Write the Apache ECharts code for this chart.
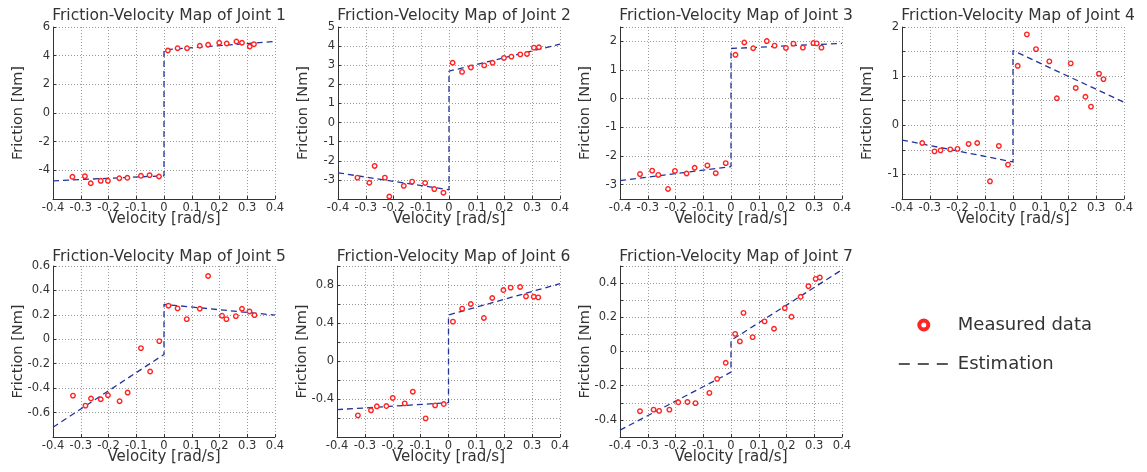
<!DOCTYPE html>
<html><head><meta charset="utf-8">
<script src="https://cdn.jsdelivr.net/npm/echarts@6/dist/echarts.min.js"></script>
<style>html,body{margin:0;padding:0;background:#fff}#c{width:1147px;height:472px}</style>
</head><body><div id="c"></div>
<script>
// ---------- data ----------
const xTicks = [-0.4, 0.4, 0.1]; // min, max, step of velocity axis
const estVel = [-0.4, 0, 0, 0.4];

const j1Vel  = [-0.330,-0.285,-0.264,-0.228,-0.202,-0.161,-0.132,-0.083,-0.052,-0.018,0.014,0.049,0.083,0.129,0.159,0.199,0.226,0.261,0.281,0.309,0.324];
const j1Fric = [-4.45,-4.41,-4.90,-4.73,-4.73,-4.55,-4.52,-4.38,-4.34,-4.43,4.36,4.52,4.52,4.69,4.76,4.90,4.85,4.99,4.90,4.64,4.80];
const j1Est  = [-4.73,-4.38,4.41,4.99];

const j2Vel  = [-0.330,-0.287,-0.268,-0.231,-0.215,-0.163,-0.133,-0.086,-0.053,-0.020,0.013,0.047,0.079,0.127,0.157,0.198,0.225,0.257,0.281,0.306,0.324];
const j2Fric = [-2.88,-3.15,-2.27,-2.88,-3.87,-3.31,-3.09,-3.16,-3.48,-3.67,3.13,2.65,2.88,2.99,3.13,3.38,3.45,3.57,3.59,3.92,3.94];
const j2Est  = [-2.63,-3.52,2.69,4.10];

const j3Vel  = [-0.328,-0.284,-0.262,-0.227,-0.202,-0.160,-0.131,-0.085,-0.055,-0.019,0.016,0.048,0.080,0.129,0.157,0.198,0.225,0.259,0.297,0.309,0.326];
const j3Fric = [-2.63,-2.51,-2.66,-3.15,-2.52,-2.61,-2.41,-2.33,-2.60,-2.25,1.53,1.96,1.76,2.01,1.85,1.77,1.92,1.78,1.94,1.93,1.78];
const j3Est  = [-2.86,-2.37,1.75,1.93];

const j4Vel  = [-0.327,-0.283,-0.261,-0.226,-0.200,-0.160,-0.129,-0.083,-0.051,-0.018,0.017,0.050,0.083,0.131,0.158,0.208,0.226,0.261,0.281,0.310,0.326];
const j4Fric = [-0.36,-0.53,-0.51,-0.49,-0.48,-0.38,-0.36,-1.14,-0.42,-0.80,1.21,1.85,1.55,1.30,0.55,1.26,0.76,0.58,0.38,1.05,0.94];
const j4Est  = [-0.30,-0.745,1.52,0.47];

const j5Vel  = [-0.328,-0.283,-0.263,-0.228,-0.202,-0.160,-0.131,-0.083,-0.050,-0.017,0.016,0.049,0.082,0.129,0.159,0.209,0.225,0.259,0.281,0.308,0.326];
const j5Fric = [-0.461,-0.543,-0.485,-0.491,-0.458,-0.507,-0.436,-0.072,-0.264,-0.015,0.275,0.253,0.165,0.250,0.518,0.193,0.165,0.190,0.250,0.228,0.198];
const j5Est  = [-0.72,-0.124,0.286,0.198];

const j6Vel  = [-0.325,-0.278,-0.257,-0.223,-0.200,-0.157,-0.128,-0.082,-0.048,-0.017,0.016,0.049,0.080,0.127,0.157,0.197,0.223,0.257,0.278,0.306,0.322];
const j6Fric = [-0.572,-0.519,-0.477,-0.474,-0.389,-0.446,-0.323,-0.604,-0.467,-0.453,0.414,0.551,0.600,0.453,0.663,0.747,0.772,0.779,0.681,0.677,0.670];
const j6Est  = [-0.512,-0.439,0.484,0.814];

const j7Vel  = [-0.328,-0.279,-0.259,-0.222,-0.190,-0.157,-0.128,-0.078,-0.050,-0.019,0.015,0.032,0.045,0.078,0.121,0.155,0.194,0.218,0.251,0.279,0.305,0.320];
const j7Fric = [-0.349,-0.340,-0.347,-0.340,-0.297,-0.295,-0.302,-0.242,-0.160,-0.066,0.103,0.059,0.226,0.084,0.176,0.133,0.254,0.203,0.320,0.382,0.425,0.433];
const j7Est  = [-0.460,-0.121,0.065,0.478];

// y axis: range, grid-line values, labelled tick values
const j1YRange = [-6, 6];     const j1YGrid = [-6,-4,-2,0,2,4,6];                 const j1YTicks = [-4,-2,0,2,4,6];
const j2YRange = [-4, 5];     const j2YGrid = [-4,-3,-2,-1,0,1,2,3,4,5];          const j2YTicks = [-3,-2,-1,0,1,2,3,4,5];
const j3YRange = [-3.5, 2.5]; const j3YGrid = [-3.5,-3,-2,-1,0,1,2,2.5];          const j3YTicks = [-3,-2,-1,0,1,2];
const j4YRange = [-1.5, 2];   const j4YGrid = [-1.5,-1,-0.5,0,0.5,1,1.5,2];       const j4YTicks = [-1,0,1,2];
const j5YRange = [-0.8, 0.6]; const j5YGrid = [-0.8,-0.6,-0.4,-0.2,0,0.2,0.4,0.6]; const j5YTicks = [-0.6,-0.4,-0.2,0,0.2,0.4,0.6];
const j6YRange = [-0.8, 1.0]; const j6YGrid = [-0.8,-0.6,-0.4,-0.2,0,0.2,0.4,0.6,0.8,1.0]; const j6YTicks = [-0.4,0,0.4,0.8];
const j7YRange = [-0.5, 0.5]; const j7YGrid = [-0.5,-0.4,-0.3,-0.2,-0.1,0,0.1,0.2,0.3,0.4,0.5]; const j7YTicks = [-0.4,-0.2,0,0.2,0.4];

const titles = ['Friction-Velocity Map of Joint 1','Friction-Velocity Map of Joint 2','Friction-Velocity Map of Joint 3','Friction-Velocity Map of Joint 4','Friction-Velocity Map of Joint 5','Friction-Velocity Map of Joint 6','Friction-Velocity Map of Joint 7'];

// ---------- build ----------
const joints = [
  [j1Vel,j1Fric,j1Est,j1YRange,j1YGrid,j1YTicks],
  [j2Vel,j2Fric,j2Est,j2YRange,j2YGrid,j2YTicks],
  [j3Vel,j3Fric,j3Est,j3YRange,j3YGrid,j3YTicks],
  [j4Vel,j4Fric,j4Est,j4YRange,j4YGrid,j4YTicks],
  [j5Vel,j5Fric,j5Est,j5YRange,j5YGrid,j5YTicks],
  [j6Vel,j6Fric,j6Est,j6YRange,j6YGrid,j6YTicks],
  [j7Vel,j7Fric,j7Est,j7YRange,j7YGrid,j7YTicks]
];
const boxes = [
  {left:53, top:27, width:222, height:172},
  {left:338, top:27, width:222, height:172},
  {left:620, top:27, width:222, height:172},
  {left:902, top:27, width:222, height:172},
  {left:53, top:266, width:222, height:171},
  {left:337, top:266, width:223, height:171},
  {left:620, top:266, width:222, height:171}
];
const FONT = 'DejaVu Sans';
const TXT = '#333333';
const gridLine = {show:true, lineStyle:{color:'#9a9a9a', type:[1,2], width:1}};

const option = {
  backgroundColor:'#ffffff',
  animation:false,
  textStyle:{fontFamily:FONT},
  title:[], grid:[], xAxis:[], yAxis:[], series:[],
  legend:{
    orient:'vertical', left:893, top:311, itemWidth:50, itemHeight:9, itemGap:21,
    textStyle:{fontSize:18, color:TXT, fontFamily:FONT, padding:[0,0,0,4]},
    data:[
      {name:'Measured data', icon:'circle', itemStyle:{color:'#ffffff', borderColor:'#ff2424', borderWidth:4, opacity:1}},
      {name:'Estimation', itemStyle:{opacity:0, borderWidth:0}, lineStyle:{color:'#222222', type:[11,8], width:1.6, opacity:1}}
    ]
  }
};

joints.forEach((j, i) => {
  const [vel, fric, est, yr, yg, yt] = j;
  const b = boxes[i];
  option.title.push({
    text:titles[i], left:b.left + b.width/2 + 5, top:(i < 4 ? 8 : 249), textAlign:'center', padding:0,
    textStyle:{fontFamily:FONT, fontSize:15.5, fontWeight:'normal', color:TXT}
  });
  option.grid.push({left:b.left, top:b.top, width:b.width, height:b.height, outerBoundsMode:'none', containLabel:false});
  option.xAxis.push({
    type:'value', gridIndex:i, min:xTicks[0], max:xTicks[1], interval:xTicks[2],
    name:'Velocity [rad/s]', nameLocation:'middle', nameGap:13, nameMoveOverlap:false,
    nameTextStyle:{fontFamily:FONT, fontSize:15, color:TXT},
    axisLine:{show:true, onZero:false, lineStyle:{color:'#333', width:1}},
    axisTick:{show:true, inside:true, length:3, lineStyle:{color:'#333'}},
    axisLabel:{margin:3, fontFamily:FONT, fontSize:11.5, color:TXT, showMinLabel:true, showMaxLabel:true,
      formatter:v => (Math.abs(v) < 1e-9 ? '0' : String(+v.toFixed(1)))},
    splitLine:gridLine
  });
  option.yAxis.push({
    type:'value', gridIndex:i, min:yr[0], max:yr[1],
    name:'Friction [Nm]', nameLocation:'middle', nameGap:27, nameMoveOverlap:false,
    nameTextStyle:{fontFamily:FONT, fontSize:14.5, color:TXT},
    axisLine:{show:true, onZero:false, lineStyle:{color:'#333', width:1}},
    axisTick:{show:true, inside:true, length:3, lineStyle:{color:'#333'}, customValues:yg},
    axisLabel:{margin:3, fontFamily:FONT, fontSize:11.5, color:TXT, customValues:yt,
      formatter:v => (Math.abs(v) < 1e-9 ? '0' : String(+v.toFixed(2)))},
    splitLine:gridLine
  });
  option.series.push({
    type:'line', name:'Estimation', xAxisIndex:i, yAxisIndex:i, symbol:'none', showSymbol:false, z:2,
    data:estVel.map((x, k) => [x, est[k]]),
    lineStyle:{color:'#22339a', width:1.3, type:[6,4]}
  });
  option.series.push({
    type:'scatter', name:'Measured data', xAxisIndex:i, yAxisIndex:i, symbol:'circle', symbolSize:4.5, z:3,
    data:vel.map((x, k) => [x, fric[k]]),
    itemStyle:{color:'#ffffff', borderColor:'#ff2424', borderWidth:1.4, opacity:1}
  });
});

const chart = echarts.init(document.getElementById('c'), null, {renderer:'canvas'});
chart.setOption(option);
</script></body></html>
